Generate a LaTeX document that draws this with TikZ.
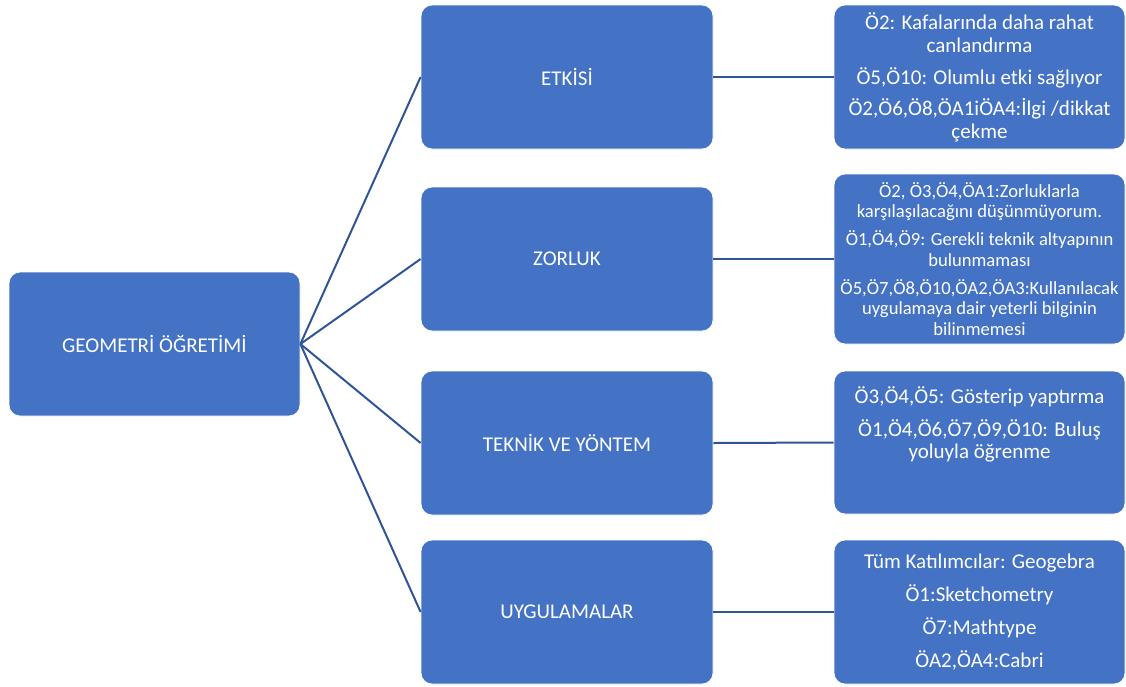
\documentclass[tikz,border=0pt]{standalone}
\usepackage{fontspec}
\setmainfont{Carlito}
\definecolor{boxfill}{HTML}{4472C4}
\definecolor{linecol}{HTML}{2F5597}
\begin{document}
\begin{tikzpicture}[x=1pt,y=-1pt,
  box/.style={draw=white, line width=0.8pt, fill=boxfill, rounded corners=11pt,
    text=white, align=center, inner sep=0pt, minimum width=291pt},
  mainbox/.style={box, minimum height=144pt, font=\fontsize{21}{25}\selectfont},
  rbox/.style={box, font=\fontsize{21}{23}\selectfont},
  conn/.style={draw=linecol, line width=2pt}]
\useasboundingbox (0,0) rectangle (1126,686);
\node[mainbox] (root) at (154.5,344) {GEOMETRİ ÖĞRETİMİ};
\node[mainbox, minimum width=292pt] (m1) at (567,77) {ETKİSİ};
\node[mainbox, minimum width=292pt] (m2) at (567,259) {ZORLUK};
\node[mainbox, minimum width=292pt] (m3) at (567,443) {TEKNİK VE YÖNTEM};
\node[mainbox, minimum width=292pt] (m4) at (567,612) {UYGULAMALAR};
\node[rbox, minimum height=144pt] (r1) at (979.5,77)
  {Ö2: Kafalarında daha rahat\\canlandırma\\[9pt]Ö5,Ö10: Olumlu etki sağlıyor\\[8pt]Ö2,Ö6,Ö8,ÖA1iÖA4:İlgi /dikkat\\çekme};
\node[rbox, minimum height=170pt, font=\fontsize{18.6}{20.7}\selectfont] (r2) at (979.5,259)
  {Ö2, Ö3,Ö4,ÖA1:Zorluklarla\\karşılaşılacağını düşünmüyorum.\\[7pt]Ö1,Ö4,Ö9: Gerekli teknik altyapının\\bulunmaması\\[7pt]Ö5,Ö7,Ö8,Ö10,ÖA2,ÖA3:Kullanılacak\\uygulamaya dair yeterli bilginin\\bilinmemesi};
\node[rbox, minimum height=143pt] (r3) at (979.5,442.5) {};
\node[text=white, align=center, inner sep=0pt, anchor=north, font=\fontsize{21}{22}\selectfont] (t3) at ([yshift=-16pt]r3.north)
  {Ö3,Ö4,Ö5: Gösterip yaptırma\\[11pt]Ö1,Ö4,Ö6,Ö7,Ö9,Ö10: Buluş\\yoluyla öğrenme};
\node[rbox, minimum height=144pt] (r4) at (979.5,612)
  {Tüm Katılımcılar: Geogebra\\[10pt]Ö1:Sketchometry\\[10pt]Ö7:Mathtype\\[10pt]ÖA2,ÖA4:Cabri};
\foreach \i in {1,2,3,4}{
  \draw[conn] (root.east) -- (m\i.west);
  \draw[conn] (m\i.east) -- (r\i.west);
}
\end{tikzpicture}
\end{document}
